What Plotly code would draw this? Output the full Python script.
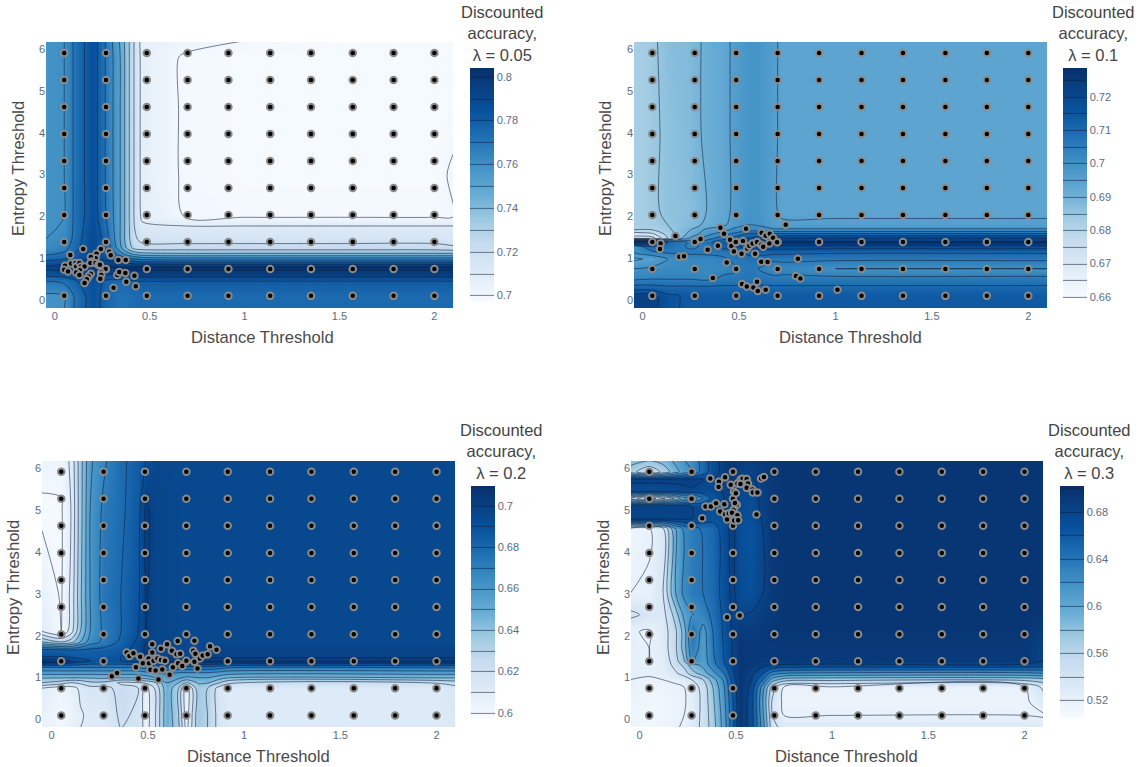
import plotly.graph_objects as go

W, H = 1142, 767
X_TICKS = [0, 0.5, 1, 1.5, 2]
Y_TICKS = [0, 1, 2, 3, 4, 5, 6]
GRID_X = [0.05, 0.27, 0.485, 0.70, 0.915, 1.135, 1.35, 1.57, 1.785, 2.0]
GRID_Y = [0.1, 0.745, 1.39, 2.035, 2.68, 3.325, 3.97, 4.615, 5.26, 5.905]
BLUES = [[0, "#f7fbff"], [0.125, "#deebf7"], [0.25, "#c6dbef"], [0.35, "#9ecae1"], [0.45, "#6baed6"],
         [0.58, "#4292c6"], [0.7, "#2171b5"], [0.82, "#08519c"], [1, "#08306b"]]

# ---------- panel 1: lambda = 0.05 ----------
x1 = [-0.05, .05, .12, .2, .27, .34, .38, .42, .46, .68, 1.0, 1.5, 2.0, 2.1]
y1 = [-0.2, .1, .45, .62, .78, .88, 1.0, 1.1, 1.25, 1.45, 1.75, 2.0, 3, 4.5, 5.8, 6.2]
z1 = [
    [758,760,774,785,776,772,772,774,775,775,775,775,775,775],
    [758,760,774,785,776,772,772,774,775,775,775,775,775,775],
    [770,772,780,786,778,776,777,779,780,780,780,780,780,780],
    [785,786,790,792,790,790,792,794,796,796,796,796,796,796],
    [792,796,798,800,800,801,802,803,803,803,803,803,803,803],
    [785,788,792,796,795,793,790,788,787,785,785,785,785,785],
    [775,778,785,792,786,778,772,768,764,762,762,762,762,762],
    [768,772,782,790,782,766,756,748,744,742,742,742,742,742],
    [762,766,778,790,778,755,738,726,724,724,724,724,724,722],
    [760,762,776,790,775,752,735,722,717,716,716,716,716,714],
    [758,761,775,788,772,752,735,720,712,711,711,711,711,711],
    [758,760,775,786,770,752,735,719,708,700,699,699,699,700],
    [758,760,775,786,769,752,735,719,707,699,698,698,698,701],
    [758,760,775,786,769,752,735,719,707,699,698,698,698,698],
    [758,760,775,786,769,752,735,719,707,699,698,698,698,698],
    [758,760,775,786,769,750,735,719,706,703,700,698,698,698],
]
px1 = [.15,.243,.082,.287,.295,.335,.374,.22,.216,.19,.195,.188,.215,.23,.238,.268,.054,.05,.07,.086,.11,.113,.13,.138,.157,.132,.113,.13,.19,.178,.169,.157,.245,.245,.24,.33,.34,.372,.377,.42,.427,.31]
py1 = [1.22,1.22,1.08,1.155,1.07,.956,.956,1.11,1.0,1.03,.92,.885,.885,.845,.845,.74,.82,.725,.68,.876,.885,.805,.885,.805,.805,.71,.66,.6,.63,.565,.5,.41,.66,.6,.51,.6,.67,.645,.44,.58,.33,.295]

# ---------- panel 2: lambda = 0.1 ----------
x2 = [-0.05, .05, .13, .25, .33, .42, .47, .55, .62, .68, .72, 1.0, 2.0, 2.1]
y2 = [-0.2, .1, .3, .53, .75, .98, 1.15, 1.28, 1.38, 1.48, 1.58, 1.68, 1.8, 2.1, 4, 6.2]
z2 = [
    [722,722,716,714,714,714,714,714,714,714,714,714,714,714],
    [722,722,716,714,714,714,714,714,714,714,714,714,714,714],
    [712,712,711,711,711,711,711,711,711,711,711,711,711,711],
    [703,704,704,704,703,706,706,707,707,706,706,706,706,706],
    [700,701,702,702,702,703,704,707,704,702,703,700,700,700],
    [694,696,700,703,702,704,706,708,708,706,706,706,706,706],
    [700,704,706,706,707,707,708,712,712,712,712,711,711,711],
    [700,710,708,704,706,712,714,717,718,718,718,718,718,718],
    [722,724,710,704,708,714,716,720,723,725,726,726,726,726],
    [668,668,680,696,702,708,711,715,718,720,720,720,720,720],
    [672,674,682,692,698,703,706,711,711,711,711,711,711,711],
    [680,680,684,690,696,698,701,703,702,701,701,701,701,701],
    [682,683,685,688,691,694,697,700,699,696,696,696,696,696],
    [682,684,686,687,690,693,696,699,698,696,694,694,694,694],
    [682,684,686,688,691,693,696,699,698,696,694,694,694,694],
    [682,684,687,688,691,693,696,699,698,696,694,694,694,694],
]
px2 = [.17,.093,.09,.19,.214,.30,.337,.39,.403,.422,.436,.364,.453,.46,.483,.473,.513,.52,.536,.542,.553,.57,.593,.583,.615,.625,.617,.638,.659,.676,.697,.657,.615,.648,.805,.742,.795,.818,.515,.54,.574,.593,.597,.638,1.01]
py2 = [1.53,1.355,1.22,1.035,1.05,1.46,1.2,1.3,1.73,1.585,.9,.526,1.44,1.29,1.39,1.163,1.108,1.41,1.705,1.235,1.3,1.35,1.39,1.108,1.32,1.275,1.61,1.54,1.585,1.49,1.38,1.355,.916,.908,.988,1.8,.574,.518,.382,.327,.303,.438,.215,.247,.247]

# ---------- panel 3: lambda = 0.2 ----------
x3 = [-0.05, .05, .1, .15, .2, .27, .36, .45, .49, .54, .6, .66, .7, .76, .81, .87, .92, 2.0, 2.1]
y3 = [-0.2, .1, .75, .88, 1.0, 1.12, 1.25, 1.4, 1.5, 1.65, 1.85, 2.1, 3, 5, 6.2]
z3 = [
    [606,602,606,610,612,612,620,618,605,620,648,632,606,636,630,616,612,612,614],
    [606,600,604,609,612,612,622,618,604,620,648,630,604,636,630,616,612,612,614],
    [610,604,606,612,616,616,624,620,606,622,648,630,604,636,630,616,612,612,616],
    [630,625,620,622,628,628,618,620,622,630,650,640,630,641,641,631,622,621,625],
    [641,641,641,641,641,642,641,642,645,650,655,652,648,650,650,645,641,641,641],
    [655,655,655,655,655,655,655,655,658,660,662,660,660,660,660,658,655,655,655],
    [671,671,671,671,671,671,671,672,675,678,680,678,678,678,678,675,672,672,672],
    [708,708,700,695,690,690,690,695,700,702,704,705,706,706,706,706,706,706,706],
    [690,690,688,686,686,686,690,695,698,698,698,698,698,698,698,698,698,698,698],
    [685,684,682,682,683,684,686,695,702,697,696,696,696,696,697,698,698,698,698],
    [640,630,635,650,665,672,682,692,700,696,696,695,695,695,695,695,695,695,695],
    [610,600,615,640,660,672,680,690,700,696,696,695,695,695,695,695,695,695,695],
    [606,599,612,638,660,674,680,688,701,696,696,695,695,695,695,695,695,695,695],
    [598,599,610,636,660,672,678,686,702,696,696,695,695,695,695,695,695,695,695],
    [604,603,612,636,658,668,678,684,690,696,695,695,695,695,695,695,695,695,695],
]
px3 = [.313,.34,.39,.404,.425,.438,.451,.46,.474,.504,.506,.523,.523,.53,.513,.54,.55,.555,.568,.568,.575,.589,.6,.613,.625,.63,.649,.655,.657,.668,.679,.7,.736,.742,.742,.747,.758,.77,.785,.811,.823,.857]
py3 = [1.03,1.108,1.6,1.514,1.578,1.25,.98,1.5,1.34,1.458,1.34,1.793,1.6,1.4,1.187,1.17,1.458,.956,1.69,1.418,1.195,1.4,1.793,1.068,1.64,1.25,1.554,1.87,1.34,1.57,1.275,1.4,1.64,1.88,1.38,1.57,1.22,1.458,1.53,1.554,1.745,1.665]

# ---------- panel 4: lambda = 0.3 ----------
x4 = [-0.05, .05, .12, .18, .23, .27, .33, .38, .44, .48, .52, .58, .64, .69, .75, 1, 2.0, 2.1]
y4 = [-0.2, .1, .4, .78, .95, 1.1, 1.3, 1.4, 1.7, 2.1, 2.5, 3, 4.55, 4.78, 5.1, 5.27, 5.45, 5.72, 5.9, 6.2]
z4 = [
    [515,512,515,518,522,530,545,570,610,650,695,670,610,545,535,535,535,530],
    [515,512,514,516,520,528,545,572,612,652,695,670,605,540,520,520,520,518],
    [516,513,513,515,518,526,545,575,615,655,695,670,600,535,516,516,516,530],
    [520,515,515,518,520,528,548,580,620,660,695,675,610,550,520,520,520,545],
    [520,518,520,522,528,540,560,590,625,665,695,680,640,590,570,565,565,570],
    [525,522,525,535,548,570,590,612,640,672,695,685,660,630,620,615,615,620],
    [522,520,525,545,565,590,605,632,655,678,695,690,685,680,678,676,676,672],
    [522,520,527,548,578,622,608,635,660,680,695,692,690,690,692,692,692,680],
    [524,520,530,552,588,634,610,638,662,680,695,692,692,692,693,693,693,682],
    [522,518,530,552,588,642,612,640,664,682,690,688,692,694,695,695,695,688],
    [545,535,532,565,605,618,630,645,665,682,680,682,688,692,695,695,695,695],
    [520,522,538,595,625,635,640,648,668,685,672,668,680,692,695,695,695,695],
    [515,518,535,595,625,635,642,650,670,686,670,665,680,693,695,695,695,695],
    [680,680,680,680,682,680,672,665,672,685,672,668,682,693,695,695,695,695],
    [682,682,682,682,682,680,675,670,680,690,675,670,685,693,695,695,695,695],
    [560,505,535,560,590,600,640,665,680,690,678,672,685,693,695,695,695,695],
    [670,670,670,672,675,678,672,672,682,690,678,672,685,693,695,695,695,695],
    [685,685,685,685,685,685,680,678,686,692,682,678,688,693,695,695,695,695],
    [570,540,565,590,610,620,650,670,688,694,686,682,690,694,695,695,695,695],
    [590,585,590,605,620,625,650,670,690,694,688,685,690,694,695,695,695,695],
]
px4 = [.367,.325,.342,.37,.397,.412,.41,.444,.473,.418,.44,.444,.463,.454,.488,.49,.5,.505,.495,.48,.508,.491,.512,.508,.525,.535,.556,.524,.563,.556,.586,.588,.612,.631,.646,.607,.454,.52]
py4 = [5.745,4.797,5.076,5.076,5.155,5.665,5.538,5.77,5.594,4.956,5.13,4.89,4.91,4.765,5.0,5.43,5.39,5.12,5.16,4.925,4.87,4.74,4.75,5.625,5.72,5.737,5.73,5.61,5.625,5.52,5.48,5.41,5.41,5.745,5.777,4.885,2.44,2.48]

panels = [
    dict(x=x1, y=y1, z=z1, px=px1, py=py1, zmin=.697, zmax=.804, start=.70, end=.80, size=.01, dtick=.02,
         box=(46, 453, 42, 308), xr=[-.046, 2.098], yr=[-.19, 6.17], bar=(470, 68, 234),
         lam="0.05", tt=(502, 33), xt=(262, 337), yt=(19, 169)),
    dict(x=x2, y=y2, z=z2, px=px2, py=py2, zmin=.66, zmax=.7286, start=.66, end=.725, size=.005, dtick=.01,
         box=(634, 1047, 42, 308), xr=[-.045, 2.097], yr=[-.19, 6.17], bar=(1063, 68, 229),
         lam="0.1", tt=(1093, 33), xt=(850, 337), yt=(606, 169)),
    dict(x=x3, y=y3, z=z3, px=px3, py=py3, zmin=.5975, zmax=.7095, start=.60, end=.70, size=.01, dtick=.02,
         box=(42, 455, 461, 727), xr=[-.05, 2.096], yr=[-.176, 6.16], bar=(471, 486, 232),
         lam="0.2", tt=(501, 452), xt=(258, 756), yt=(13, 588)),
    dict(x=x4, y=y4, z=z4, px=px4, py=py4, zmin=.505, zmax=.7018, start=.52, end=.70, size=.02, dtick=.04,
         box=(631, 1043, 461, 727), xr=[-.045, 2.096], yr=[-.176, 6.16], bar=(1060, 486, 232),
         lam="0.3", tt=(1089, 452), xt=(846, 756), yt=(603, 588)),
]

FONT = "Liberation Sans"
TICK = "#5a6b7f"
fig = go.Figure()
annots = []
layout = {}
for i, p in enumerate(panels, start=1):
    sfx = "" if i == 1 else str(i)
    l, r, t, b = p["box"]
    bx, by, blen = p["bar"]
    fig.add_trace(go.Contour(
        x=p["x"], y=p["y"], z=[[v / 1000 for v in row] for row in p["z"]],
        xaxis=f"x{sfx}", yaxis=f"y{sfx}",
        colorscale=BLUES, zauto=False, zmin=p["zmin"], zmax=p["zmax"], autocontour=False,
        contours=dict(start=p["start"], end=p["end"], size=p["size"], coloring="heatmap", showlines=True),
        line=dict(width=0.8, color="rgba(15,30,60,0.7)", smoothing=0.9),
        colorbar=dict(x=bx / W, xanchor="left", xpad=0, y=1 - by / H, yanchor="top", ypad=0,
                      len=blen, lenmode="pixels", thickness=24, thicknessmode="pixels",
                      outlinewidth=0, dtick=p["dtick"], tick0=0, ticks="",
                      tickfont=dict(family=FONT, size=11, color=TICK)),
        hoverinfo="skip",
    ))
    gx = [a for _ in GRID_Y for a in GRID_X]
    gy = [b_ for b_ in GRID_Y for _ in GRID_X]
    fig.add_trace(go.Scatter(
        x=gx + p["px"], y=gy + p["py"], mode="markers", xaxis=f"x{sfx}", yaxis=f"y{sfx}", showlegend=False,
        marker=dict(size=6.5, color="#000000", line=dict(width=2, color="#8a8a8a")),
    ))
    layout[f"xaxis{sfx}"] = dict(domain=[l / W, r / W], range=p["xr"], anchor=f"y{sfx}", tickvals=X_TICKS,
                                 ticktext=[str(v) for v in X_TICKS], showgrid=False, zeroline=False, ticks="",
                                 tickfont=dict(family=FONT, size=11, color=TICK))
    layout[f"yaxis{sfx}"] = dict(domain=[1 - b / H, 1 - t / H], range=p["yr"], anchor=f"x{sfx}", tickvals=Y_TICKS,
                                 showgrid=False, zeroline=False, ticks="",
                                 tickfont=dict(family=FONT, size=11, color=TICK))
    annots.append(dict(text=f"Discounted<br>accuracy,<br>λ = {p['lam']}", x=p["tt"][0] / W, y=1 - p["tt"][1] / H,
                       font=dict(family=FONT, size=16.5, color="#444444")))
    annots.append(dict(text="Distance Threshold", x=p["xt"][0] / W, y=1 - p["xt"][1] / H,
                       font=dict(family=FONT, size=16.6, color="#4a4a4a")))
    annots.append(dict(text="Entropy Threshold", x=p["yt"][0] / W, y=1 - p["yt"][1] / H, textangle=-90,
                       font=dict(family=FONT, size=16.6, color="#4a4a4a")))
for a in annots:
    a.update(xref="paper", yref="paper", xanchor="center", yanchor="middle", showarrow=False, align="center")

fig.update_layout(width=W, height=H, margin=dict(l=0, r=0, t=0, b=0), paper_bgcolor="white", plot_bgcolor="white",
                  showlegend=False, annotations=annots, **layout)
fig.write_html("out.html", config={"displayModeBar": False}, post_script="document.body.style.margin='0';")
